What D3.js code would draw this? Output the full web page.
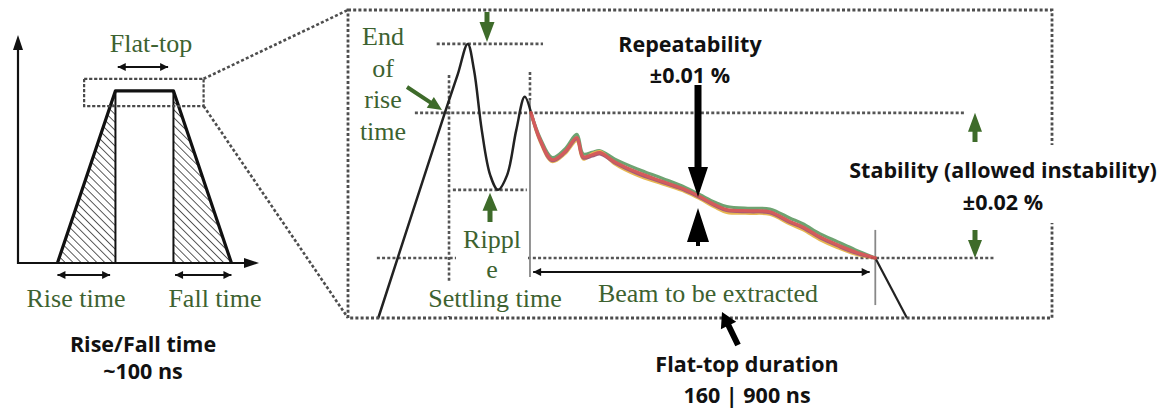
<!DOCTYPE html>
<html>
<head>
<meta charset="utf-8">
<script src="https://cdn.jsdelivr.net/npm/d3@7"></script>
<style>
  html, body { margin: 0; padding: 0; background: #fff; }
  svg { display: block; }
</style>
</head>
<body>
<svg id="chart" width="1165" height="412"></svg>
<script>
// ---------------- data ----------------
// Overview pulse (left panel): corner times and current level (arbitrary units)
const pulseTime  = [17, 42, 67, 92];
const pulseLevel = [0, 79, 79, 0];
// Zoom window drawn around the flat-top of the overview pulse
const windowTime  = [28.5, 80];
const windowLevel = [72, 84.5];

// Zoomed flat-top (right panel): rise, overshoot and ripple
const riseTime  = [4.3, 13.8, 15.6, 17.0, 17.9, 19.0, 20.2, 21.3, 22.6, 23.9, 25.1, 26.0];
const riseLevel = [0, 66.9, 79.2, 89.0, 80.5, 61.0, 46.4, 41.6, 46.4, 61.0, 71.8, 66.6];

// Several measured flat-top shots overlaid
const flatTime   = [26.0, 27.3, 29.0, 30.8, 32.5, 33.4, 34.7, 35.8, 37.9, 41.1, 44.7, 47.9, 50.0, 52.1, 53.8, 57.1, 59.9, 62.8, 64.6, 67.0, 69.5, 72.0, 74.9];
const shotGreen  = [66.6, 58.4, 52.1, 54.8, 59.6, 53.3, 53.8, 54.3, 51.6, 48.4, 45.3, 42.4, 40.0, 37.6, 36.2, 35.6, 35.4, 32.4, 30.6, 27.4, 24.8, 22.2, 19.5];
const shotOrange = [66.6, 57.3, 50.8, 53.3, 57.6, 51.6, 53.3, 54.0, 50.0, 46.3, 43.5, 41.0, 38.7, 36.0, 34.3, 34.0, 33.7, 30.5, 28.7, 25.5, 22.9, 20.8, 19.5];
const shotMaroon = [66.6, 57.6, 51.1, 53.7, 58.1, 52.0, 52.6, 53.3, 50.4, 46.9, 44.0, 41.4, 39.1, 36.5, 34.9, 34.5, 34.2, 31.0, 29.3, 26.1, 23.5, 21.2, 19.5];
const shotRed    = [66.6, 57.9, 51.4, 54.0, 58.6, 52.4, 53.0, 53.7, 50.7, 47.3, 44.3, 41.7, 39.4, 36.8, 35.2, 34.8, 34.5, 31.3, 29.6, 26.4, 23.8, 21.5, 19.5];

// Fall at the end of the flat-top
const fallTime  = [74.9, 79.4];
const fallLevel = [19.5, 0];

// Reference levels and times
const overshootLevel = 89.0;
const upperLevel     = 66.6;
const rippleLevel    = 41.6;
const lowerLevel     = 19.5;
const riseEndTime    = 14.35;
const flatStartTime  = 25.85;
const flatEndTime    = 74.9;

// Labels
const leftLabels  = { flat: "Flat-top", rise: "Rise time", fall: "Fall time" };
const riseNote    = ["Rise/Fall time", "~100 ns"];
const endRise     = ["End", "of", "rise", "time"];
const rippleLabel = ["Rippl", "e"];
const settling    = "Settling time";
const beamLabel   = "Beam to be extracted";
const repeat      = ["Repeatability", "±0.01 %"];
const stability   = ["Stability (allowed instability)", "±0.02 %"];
const duration    = ["Flat-top duration", "160 | 900 ns"];

// ---------------- drawing ----------------
const svg = d3.select("#chart");
const GREEN_TXT = "#3d6230";
const GREEN_ARR = "#3e6b2a";
const SERIF = "'Liberation Serif','Times New Roman',serif";
const BOLD  = "'Open Sans', Lato, sans-serif";

const defs = svg.append("defs");
// hatching for rise / fall areas
const hatch = defs.append("pattern")
  .attr("id", "hatch").attr("patternUnits", "userSpaceOnUse")
  .attr("width", 5.6).attr("height", 5.6)
  .attr("patternTransform", "rotate(-45)");
hatch.append("line").attr("x1", 0).attr("y1", 0).attr("x2", 0).attr("y2", 5.6)
  .attr("stroke", "#333").attr("stroke-width", 1.6);

// thin double-arrow head
defs.append("marker")
  .attr("id", "head").attr("viewBox", "0 0 10 10")
  .attr("refX", 10).attr("refY", 5)
  .attr("markerUnits", "userSpaceOnUse")
  .attr("markerWidth", 10).attr("markerHeight", 8)
  .attr("orient", "auto-start-reverse")
  .append("path").attr("d", "M0,0 L10,5 L0,10 Z").attr("fill", "#111");

// filled block arrow from (x1,y1) to tip (x2,y2)
function blockArrow(g, x1, y1, x2, y2, shaftW, headW, headL, color) {
  const dx = x2 - x1, dy = y2 - y1, len = Math.hypot(dx, dy);
  const ux = dx / len, uy = dy / len, px = -uy, py = ux;
  const bx = x2 - ux * headL, by = y2 - uy * headL;
  const pts = [
    [x1 + px * shaftW / 2, y1 + py * shaftW / 2],
    [bx + px * shaftW / 2, by + py * shaftW / 2],
    [bx + px * headW / 2, by + py * headW / 2],
    [x2, y2],
    [bx - px * headW / 2, by - py * headW / 2],
    [bx - px * shaftW / 2, by - py * shaftW / 2],
    [x1 - px * shaftW / 2, y1 - py * shaftW / 2]
  ];
  g.append("path").attr("d", "M" + pts.map(p => p.join(",")).join("L") + "Z").attr("fill", color);
}

// ===== Left panel: overview pulse =====
const xL = d3.scaleLinear().domain([0, 100]).range([18, 250]);
const yL = d3.scaleLinear().domain([0, 100]).range([263, 45]);
const left = svg.append("g");

// hatched rise and fall areas
left.append("path")
  .attr("d", d3.line()([[xL(pulseTime[0]), yL(pulseLevel[0])], [xL(pulseTime[1]), yL(pulseLevel[1])], [xL(pulseTime[1]), yL(0)]]) + "Z")
  .attr("fill", "url(#hatch)");
left.append("path")
  .attr("d", d3.line()([[xL(pulseTime[2]), yL(pulseLevel[2])], [xL(pulseTime[3]), yL(pulseLevel[3])], [xL(pulseTime[2]), yL(0)]]) + "Z")
  .attr("fill", "url(#hatch)");
// inner verticals
[pulseTime[1], pulseTime[2]].forEach(t => {
  left.append("line").attr("x1", xL(t)).attr("x2", xL(t))
    .attr("y1", yL(pulseLevel[1])).attr("y2", yL(0))
    .attr("stroke", "#111").attr("stroke-width", 2);
});
// axes
left.append("line").attr("x1", xL(0)).attr("x2", xL(0)).attr("y1", yL(0) + 1).attr("y2", 48)
  .attr("stroke", "#111").attr("stroke-width", 2.2);
left.append("path").attr("d", `M${xL(0)},35 L${xL(0) + 5},50 L${xL(0) - 5},50 Z`).attr("fill", "#111");
left.append("line").attr("x1", xL(0) - 1).attr("x2", 246).attr("y1", yL(0)).attr("y2", yL(0))
  .attr("stroke", "#111").attr("stroke-width", 2.2);
left.append("path").attr("d", `M259,${yL(0)} L244,${yL(0) - 5} L244,${yL(0) + 5} Z`).attr("fill", "#111");
// pulse outline
left.append("path")
  .attr("d", d3.line().x((d, i) => xL(pulseTime[i])).y(d => yL(d))(pulseLevel))
  .attr("fill", "none").attr("stroke", "#111").attr("stroke-width", 3.2).attr("stroke-linejoin", "round");
// zoom window
left.append("rect")
  .attr("x", xL(windowTime[0])).attr("y", yL(windowLevel[1]))
  .attr("width", xL(windowTime[1]) - xL(windowTime[0]))
  .attr("height", yL(windowLevel[0]) - yL(windowLevel[1]))
  .attr("fill", "none").attr("stroke", "#4a4a4a").attr("stroke-width", 2.2).attr("stroke-dasharray", "3.2,1.8");

// double arrows
function dblArrow(g, x1, y1, x2, y2, w) {
  g.append("line").attr("x1", x1).attr("y1", y1).attr("x2", x2).attr("y2", y2)
    .attr("stroke", "#111").attr("stroke-width", w || 2)
    .attr("marker-start", "url(#head)").attr("marker-end", "url(#head)");
}
dblArrow(left, xL(43), 67, xL(64.7), 67);
dblArrow(left, xL(pulseTime[0]), 275, xL(39.7), 275);
dblArrow(left, xL(67.7), 275, xL(pulseTime[3]), 275);

left.append("text").attr("x", 151).attr("y", 52).attr("text-anchor", "middle")
  .attr("font-family", SERIF).attr("font-size", 26).attr("fill", GREEN_TXT).text(leftLabels.flat);
left.append("text").attr("x", 76).attr("y", 307).attr("text-anchor", "middle")
  .attr("font-family", SERIF).attr("font-size", 26).attr("fill", GREEN_TXT).text(leftLabels.rise);
left.append("text").attr("x", 215).attr("y", 307).attr("text-anchor", "middle")
  .attr("font-family", SERIF).attr("font-size", 26).attr("fill", GREEN_TXT).text(leftLabels.fall);

// ===== Right panel: zoomed flat-top =====
const xI = d3.scaleLinear().domain([0, 100]).range([348, 1052]);
const yI = d3.scaleLinear().domain([0, 100]).range([318, 10]);
const inset = svg.append("g");
const DOT = "3,2.2";
const DOT_COL = "#4d4d4d";

// perspective lines from the zoom window to the inset
inset.append("line").attr("x1", xL(windowTime[1])).attr("y1", yL(windowLevel[1]))
  .attr("x2", xI(0)).attr("y2", yI(100))
  .attr("stroke", DOT_COL).attr("stroke-width", 2.6).attr("stroke-dasharray", DOT);
inset.append("line").attr("x1", xL(windowTime[1])).attr("y1", yL(windowLevel[0]))
  .attr("x2", xI(0)).attr("y2", yI(0))
  .attr("stroke", DOT_COL).attr("stroke-width", 2.6).attr("stroke-dasharray", DOT);

// dotted guide lines
function hGuide(level, t0, t1) {
  inset.append("line").attr("x1", xI(t0)).attr("x2", xI(t1)).attr("y1", yI(level)).attr("y2", yI(level))
    .attr("stroke", "#555").attr("stroke-width", 2.6).attr("stroke-dasharray", DOT);
}
function vGuide(t, v0, v1, dotted) {
  inset.append("line").attr("x1", xI(t)).attr("x2", xI(t)).attr("y1", yI(v0)).attr("y2", yI(v1))
    .attr("stroke", dotted ? "#555" : "#888").attr("stroke-width", dotted ? 2.6 : 1.8)
    .attr("stroke-dasharray", dotted ? DOT : null);
}
hGuide(overshootLevel, 12.6, 27.7);
hGuide(upperLevel, 9.5, 87.6);
hGuide(rippleLevel, 14.9, 25.4);
hGuide(lowerLevel, 4.1, 91.9);
vGuide(riseEndTime, 78.9, 0, true);
vGuide(flatStartTime, 79.9, 70.8, true);
vGuide(flatStartTime, 70.8, 13.3, false);
vGuide(flatEndTime, 28.6, 4.2, false);

// beam arrow
dblArrow(inset, xI(26.3), yI(14.9), xI(74.1), yI(14.9), 2);

// rise, overshoot and ripple
inset.append("path")
  .attr("d", d3.line().curve(d3.curveCatmullRom.alpha(0.5))
    .x((d, i) => xI(riseTime[i])).y(d => yI(d))(riseLevel))
  .attr("fill", "none").attr("stroke", "#222").attr("stroke-width", 2.5);
// fall
inset.append("path")
  .attr("d", d3.line().x((d, i) => xI(fallTime[i])).y(d => yI(d))(fallLevel))
  .attr("fill", "none").attr("stroke", "#222").attr("stroke-width", 2.2);

// overlaid shots
const shots = [
  { v: shotGreen,  c: "#5f9a62" },
  { v: shotOrange, c: "#e6b040" },
  { v: shotMaroon, c: "#9a4a6a" },
  { v: shotRed,    c: "#d04a4a" }
];
const shotLine = d3.line().curve(d3.curveCatmullRom.alpha(0.5)).x((d, i) => xI(flatTime[i])).y(d => yI(d));
const shotG = inset.append("g").attr("opacity", 0.9);
shots.forEach(s => {
  shotG.append("path").attr("d", shotLine(s.v))
    .attr("fill", "none").attr("stroke", s.c).attr("stroke-width", 3.2).attr("stroke-linecap", "round");
});

// white label backgrounds
const bg = (x, y, w, h) => inset.append("rect").attr("x", x).attr("y", y).attr("width", w).attr("height", h).attr("fill", "#fff");
bg(355, 20, 58, 130);
bg(456, 221, 72, 62);
bg(425, 283, 143, 33);
bg(845, 145, 315, 78);

// inset frame
inset.append("rect").attr("x", xI(0)).attr("y", yI(100))
  .attr("width", xI(100) - xI(0)).attr("height", yI(0) - yI(100))
  .attr("fill", "none").attr("stroke", DOT_COL).attr("stroke-width", 2.8).attr("stroke-dasharray", DOT);
bg(1046, 145, 14, 78);

// green annotation text
endRise.forEach((s, i) => {
  inset.append("text").attr("x", 383).attr("y", 45 + i * 31.5).attr("text-anchor", "middle")
    .attr("font-family", SERIF).attr("font-size", 26).attr("fill", GREEN_TXT).text(s);
});
rippleLabel.forEach((s, i) => {
  inset.append("text").attr("x", 492).attr("y", 248 + i * 30).attr("text-anchor", "middle")
    .attr("font-family", SERIF).attr("font-size", 26).attr("fill", GREEN_TXT).text(s);
});
inset.append("text").attr("x", 495).attr("y", 307).attr("text-anchor", "middle")
  .attr("font-family", SERIF).attr("font-size", 26).attr("fill", GREEN_TXT).text(settling);
inset.append("text").attr("x", 708).attr("y", 302).attr("text-anchor", "middle")
  .attr("font-family", SERIF).attr("font-size", 26).attr("fill", GREEN_TXT).text(beamLabel);

// green arrows
blockArrow(inset, 487, 12, 487, yI(overshootLevel) - 2, 5, 15, 20, GREEN_ARR);
blockArrow(inset, 490, 222, 490, yI(rippleLevel) + 3, 5, 15, 18, GREEN_ARR);
blockArrow(inset, 975, 142, 975, yI(upperLevel), 5, 14, 19, GREEN_ARR);
blockArrow(inset, 975, 230, 975, yI(lowerLevel), 5, 14, 18, GREEN_ARR);
blockArrow(inset, 407, 87, 442, 110, 4, 13, 14, GREEN_ARR);

// black annotation arrows
blockArrow(inset, 698, 85, 698, 197, 7, 20, 30, "#000");
blockArrow(inset, 698, 246, 698, 208, 4, 22, 34, "#000");
blockArrow(inset, 738, 345, 722, 312, 6, 17, 15, "#000");

// bold notes
const boldText = (lines, x, y, step) => lines.forEach((s, i) => {
  svg.append("text").attr("x", x).attr("y", y + i * step).attr("text-anchor", "middle")
    .attr("font-family", BOLD).attr("font-weight", 700).attr("font-size", 21.5).attr("fill", "#111").text(s);
});
boldText(riseNote, 143, 352, 27);
boldText(repeat, 690, 52, 31);
boldText(stability, 1003, 178, 32);
boldText(duration, 747, 372, 31);
</script>
</body>
</html>
